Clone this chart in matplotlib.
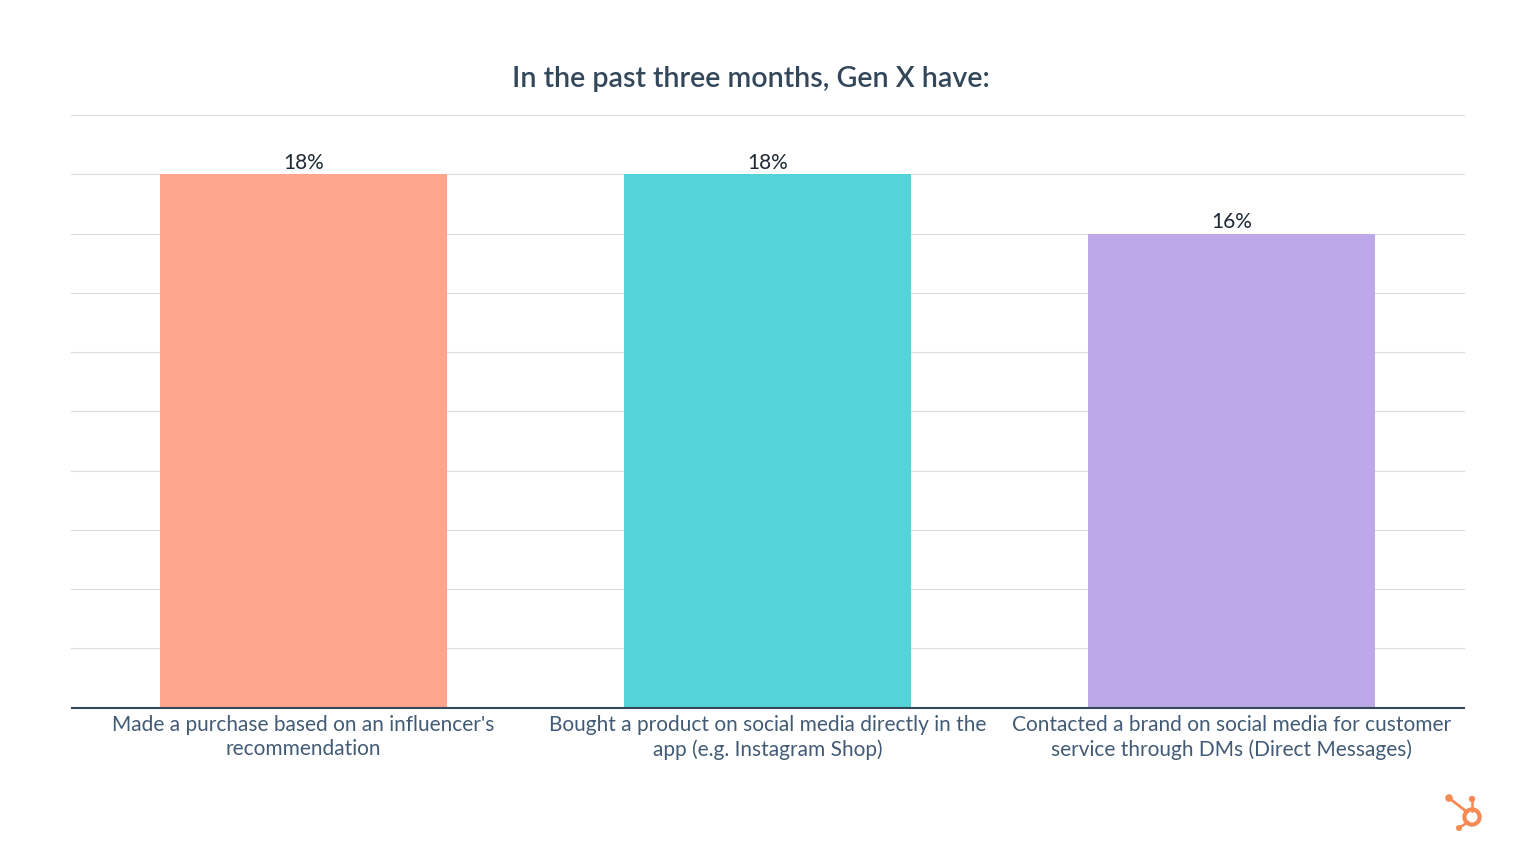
import matplotlib
matplotlib.use("Agg")
import matplotlib.pyplot as plt
from matplotlib.patches import Circle
from matplotlib.lines import Line2D

categories = ["Made a purchase based on an influencer's\nrecommendation",
              "Bought a product on social media directly in the\napp (e.g. Instagram Shop)",
              "Contacted a brand on social media for customer\nservice through DMs (Direct Messages)"]
values = [18, 18, 16]
bar_colors = ["#FFA58D", "#54D3D9", "#BDA9E9"]
title = "In the past three months, Gen X have:"
yticks = list(range(0, 21, 2))

W, H = 1516, 844
plt.rcParams['font.family'] = ['Lato', 'DejaVu Sans']
fig = plt.figure(figsize=(W/100, H/100), dpi=100, facecolor='white')
ax = fig.add_axes([71/W, 1-707.6/H, (1465-71)/W, (707.6-115)/H])
pos = list(range(len(values)))
bars = ax.bar(pos, values, width=287/464, color=bar_colors, zorder=2)
ax.set_xlim(-232.5/464, 2+233.5/464)
ax.set_ylim(0, 20)
ax.set_yticks(yticks)
ax.tick_params(axis='y', length=0, labelleft=False)
ax.tick_params(axis='x', length=0, pad=5.6)
ax.set_xticks(pos)
ax.set_xticklabels(categories, fontsize=15.05, color='#425B76', linespacing=1.22)
ax.grid(axis='y', color='#DDDDDD', lw=0.8, zorder=0)
ax.set_axisbelow(True)
for s in ['top', 'left', 'right']:
    ax.spines[s].set_visible(False)
ax.spines['bottom'].set_color('#33475B')
ax.spines['bottom'].set_linewidth(1.5)
ax.spines['bottom'].set_capstyle('butt')
for p, v in zip(pos, values):
    ax.annotate(f"{v}%", (p, v), xytext=(0, 1), textcoords='offset points',
                ha='center', va='bottom', fontsize=15, color='#1F2A36')
fig.text(751/W, 1-79/H, title, ha='center', va='center', fontsize=20.6,
         fontweight='semibold', color='#33475B')

# HubSpot logo
c = '#F58A55'
ov = fig.add_axes([0, 0, 1, 1], facecolor='none')
ov.set_xlim(0, W); ov.set_ylim(H, 0); ov.axis('off')
for (x0, y0, x1, y1, lw) in [(1449, 798, 1467, 812, 2.0), (1472, 799, 1472, 811, 1.8), (1459, 828, 1468, 822, 1.8)]:
    ov.add_line(Line2D([x0, x1], [y0, y1], color=c, lw=lw))
for (x, y, r) in [(1449, 798, 3.8), (1472, 799, 3.2), (1459, 828, 3.0)]:
    ov.add_patch(Circle((x, y), r, color=c, lw=0))
ov.add_patch(Circle((1472, 817), 7.6, facecolor='white', edgecolor=c, lw=3.0))

fig.savefig("out.png", dpi=100, facecolor='white')
